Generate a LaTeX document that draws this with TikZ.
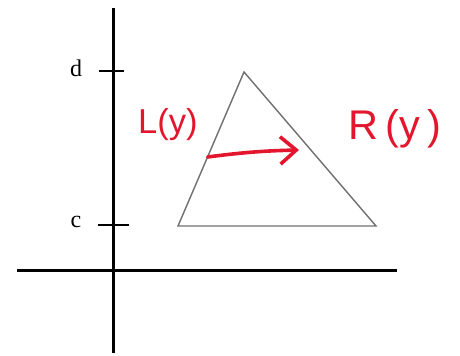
\documentclass[tikz,border=0pt]{standalone}
\usepackage{fontspec}
\setmainfont{Liberation Serif}
\newfontfamily\handfont{Liberation Sans}
\usepackage{tikz}
\usetikzlibrary{arrows.meta,positioning,calc}
\definecolor{SketchInk}{HTML}{E3162D}
\definecolor{SketchGray}{HTML}{707070}
\tikzset{
  axis/.style={draw=black, line width=1.5pt},
  ticmark/.style={draw=black, line width=0.8pt},
  region/.style={draw=SketchGray, line width=0.7pt},
  axislabel/.style={font=\large, inner sep=0pt},
  inklabel/.style={text=SketchInk, font=\handfont\LARGE, inner sep=0pt},
  inkwire/.style={-{Straight Barb[length=2.8mm, width=4.8mm]}, draw=SketchInk,
    line width=1.8pt, line cap=round}
}

\begin{document}
\begin{tikzpicture}[x=0.5pt, y=-0.5pt]
  \useasboundingbox (0,0) rectangle (460,356);
  % axes
  \coordinate (yTop) at (113,8);
  \coordinate (yBottom) at (113,353);
  \coordinate (xLeft) at (17,271);
  \coordinate (xRight) at (397,271);
  \draw[axis] (yTop) -- (yBottom);
  \draw[axis] (xLeft) -- (xRight);
  % ticks and their labels
  \coordinate (dTickL) at (99,71);
  \coordinate (dTickR) at (124,71);
  \coordinate (cTickL) at (98,225);
  \coordinate (cTickR) at (129,225);
  \draw[ticmark] (dTickL) -- (dTickR);
  \draw[ticmark] (cTickL) -- (cTickR);
  \node[axislabel] (dLabel) at (76,68) {d};
  \node[axislabel] (cLabel) at (76,222) {c};
  % triangle
  \coordinate (apex) at (244,72);
  \coordinate (baseL) at (178,226);
  \coordinate (baseR) at (376,226);
  \draw[region] (apex) -- (baseL) -- (baseR) -- cycle;
  % handwritten notes
  \node[inklabel] (leftEnd) at (168,125) {L(y)};
  \node[inklabel, font=\handfont\huge] (rightEnd) at (395,129) {R\,(y\,)};
  \coordinate (sweepFrom) at ($(baseL)!0.448!(apex)$);
  \coordinate (sweepTo) at (299,150);
  \draw[inkwire] (sweepFrom) to[bend left=3] (sweepTo);
\end{tikzpicture}
\end{document}
